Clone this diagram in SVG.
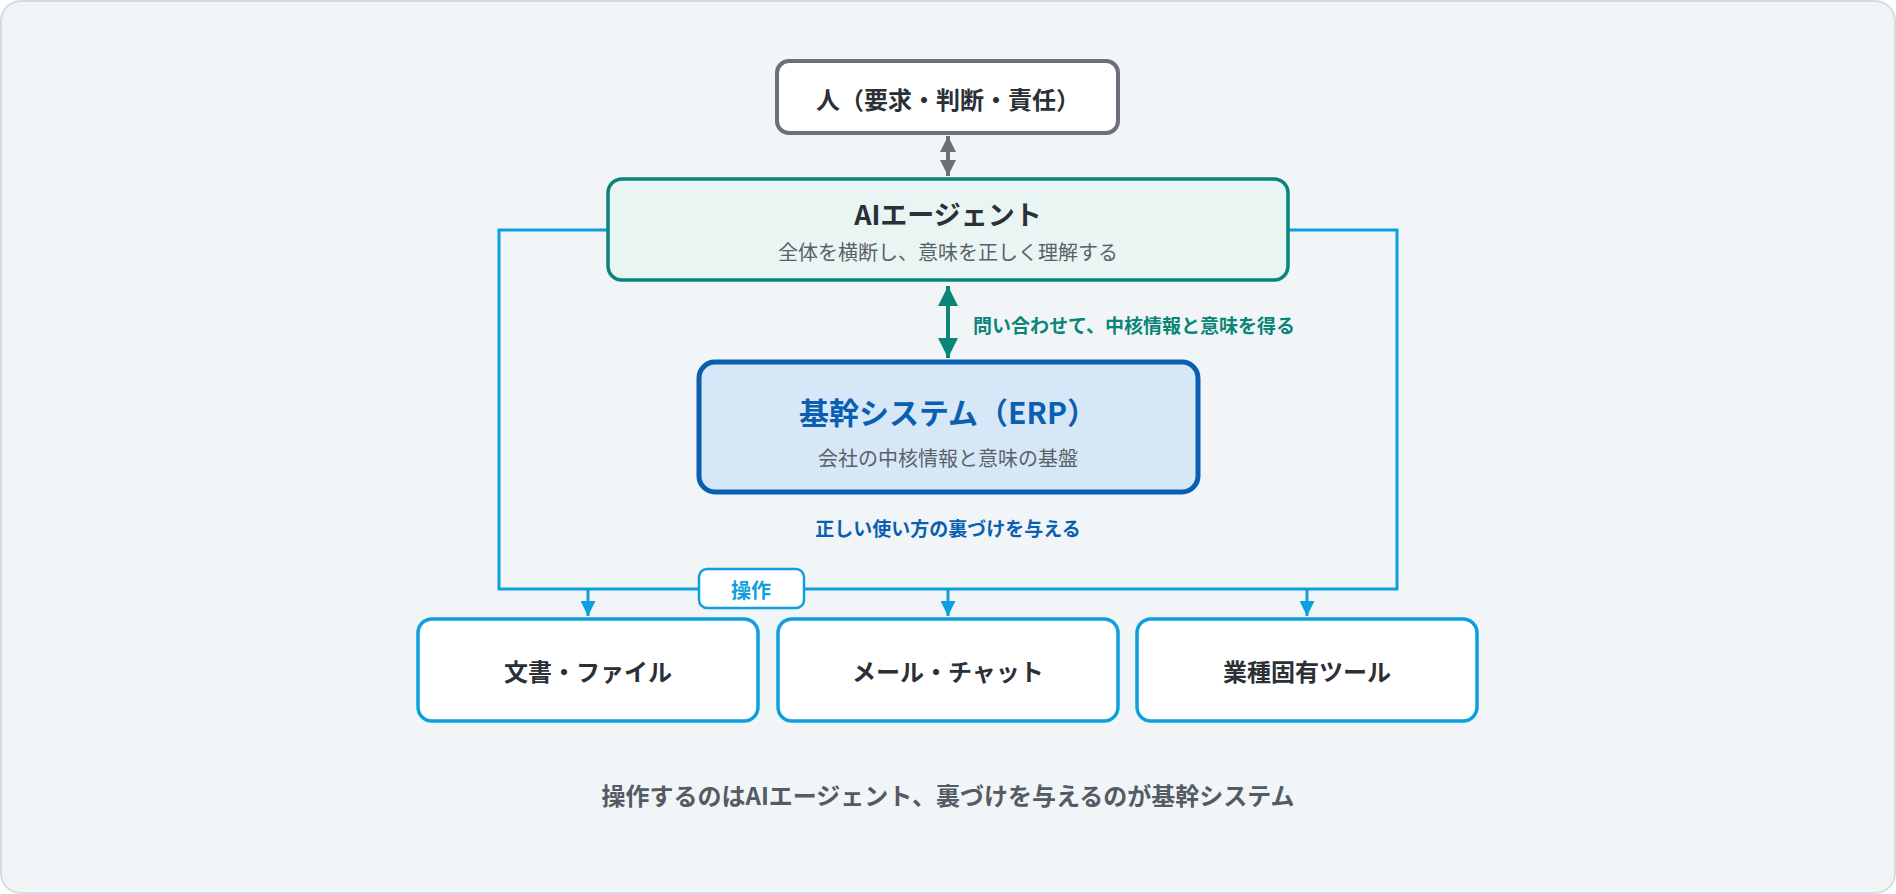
<svg xmlns="http://www.w3.org/2000/svg" width="1896" height="894" viewBox="0 0 1896 894">
<defs>
<style>
text{font-family:"Noto Sans CJK JP","Noto Sans",sans-serif;text-anchor:middle;dominant-baseline:central}
.b{font-weight:700}
.tool{fill:#fff;stroke:#0ea0dc;stroke-width:3.5}
.lbl{font-size:24px;fill:#2b2f36;font-weight:700}
</style>
<marker id="ab" viewBox="0 0 10 10" refX="10" refY="5" markerWidth="5" markerHeight="5" orient="auto"><path d="M0,0L10,5L0,10z" fill="#0ea0dc"/></marker>
<marker id="ag" viewBox="0 0 10 10" refX="10" refY="5" markerWidth="5" markerHeight="5" orient="auto-start-reverse"><path d="M0,0L10,5L0,10z" fill="#0a8577"/></marker>
<marker id="ay" viewBox="0 0 10 10" refX="10" refY="5" markerWidth="4" markerHeight="4" orient="auto-start-reverse"><path d="M0,0L10,5L0,10z" fill="#6b7079"/></marker>
</defs>
<rect x="1" y="1" width="1894" height="892" rx="20" fill="#f1f5f8" stroke="#d5dadf" stroke-width="2"/>
<g id="connectors">
<path d="M607,230H499V589H1397V230H1289" fill="none" stroke="#0ea0dc" stroke-width="3"/>
<line x1="588" y1="589" x2="588" y2="616" stroke="#0ea0dc" stroke-width="3" marker-end="url(#ab)"/>
<line x1="948" y1="589" x2="948" y2="616" stroke="#0ea0dc" stroke-width="3" marker-end="url(#ab)"/>
<line x1="1307" y1="589" x2="1307" y2="616" stroke="#0ea0dc" stroke-width="3" marker-end="url(#ab)"/>
<line x1="948" y1="136" x2="948" y2="176" stroke="#6b7079" stroke-width="4" marker-start="url(#ay)" marker-end="url(#ay)"/>
<line x1="948" y1="286" x2="948" y2="358" stroke="#0a8577" stroke-width="4" marker-start="url(#ag)" marker-end="url(#ag)"/>
<text x="973" y="324" class="b" style="text-anchor:start;font-size:19px;fill:#0a8577">問い合わせて、中核情報と意味を得る</text>
<text x="948" y="527" class="b" style="font-size:19px;fill:#0b5fb0">正しい使い方の裏づけを与える</text>
<rect x="699" y="569" width="105" height="39" rx="8" fill="#fff" stroke="#0ea0dc" stroke-width="2.5"/>
<text x="751" y="589" class="b" style="font-size:20px;fill:#0ea0dc">操作</text>
</g>
<g id="person">
<rect x="777" y="61" width="341" height="72" rx="12" fill="#fff" stroke="#6b7079" stroke-width="4"/>
<text x="948" y="98" class="lbl">人（要求・判断・責任）</text>
</g>
<g id="ai">
<rect x="608" y="179" width="680" height="101" rx="14" fill="#e9f5f2" stroke="#0a8577" stroke-width="3.5"/>
<text x="948" y="213" class="b" style="font-size:27px;fill:#2b2f36">AIエージェント</text>
<text x="948" y="251" style="font-size:20px;fill:#5a6069">全体を横断し、意味を正しく理解する</text>
</g>
<g id="erp">
<rect x="699" y="362" width="499" height="130" rx="16" fill="#d6e8f7" stroke="#0b5fb0" stroke-width="5"/>
<text x="948" y="411" class="b" style="font-size:30px;fill:#0b5fb0">基幹システム（ERP）</text>
<text x="948" y="457" style="font-size:20px;fill:#5a6069">会社の中核情報と意味の基盤</text>
</g>
<g id="docs"><rect class="tool" x="418" y="619" width="340" height="102" rx="14"/><text x="588" y="670" class="lbl">文書・ファイル</text></g>
<g id="mail"><rect class="tool" x="778" y="619" width="340" height="102" rx="14"/><text x="948" y="670" class="lbl">メール・チャット</text></g>
<g id="industry"><rect class="tool" x="1137" y="619" width="340" height="102" rx="14"/><text x="1307" y="670" class="lbl">業種固有ツール</text></g>
<text x="948" y="794" class="b" style="font-size:24px;fill:#555b63">操作するのはAIエージェント、裏づけを与えるのが基幹システム</text>
</svg>
